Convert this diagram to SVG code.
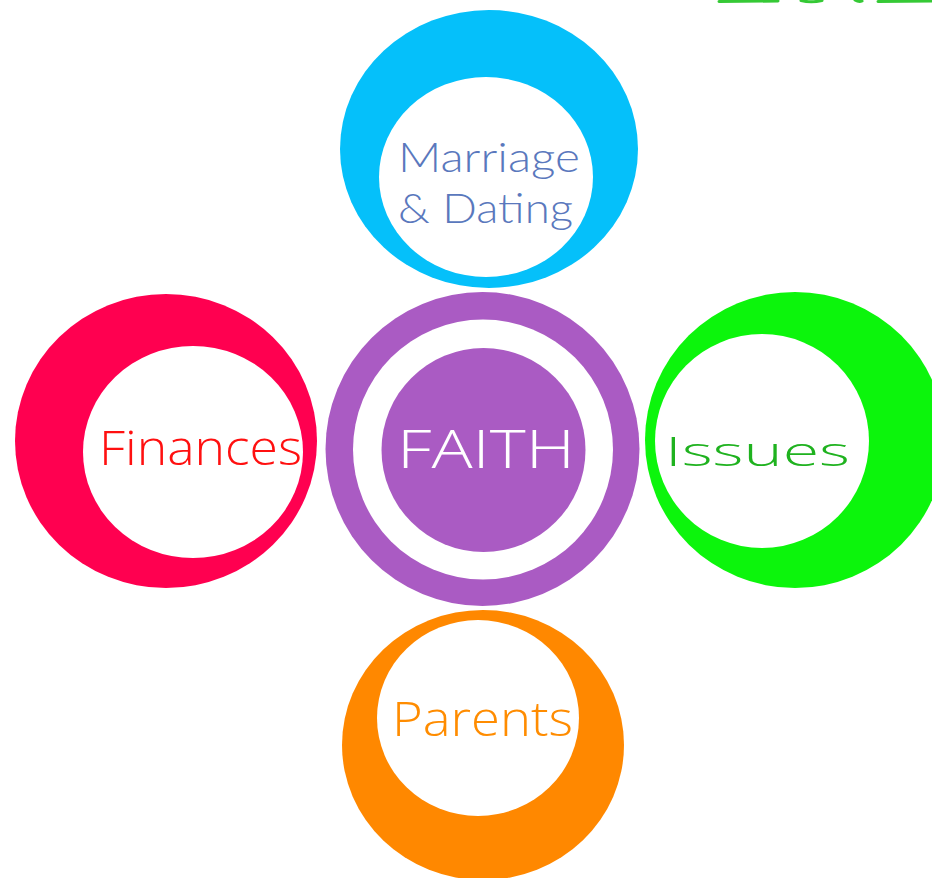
<svg xmlns="http://www.w3.org/2000/svg" width="932" height="878" viewBox="0 0 932 878">
<style>
.lbl{font-family:"Open Sans","Lato","Liberation Sans",sans-serif;font-weight:300}
.lbl2{font-family:"Lato","Liberation Sans",sans-serif;font-weight:300}
.hole{fill:#ffffff}
</style>
<rect width="932" height="878" fill="#ffffff"/>
<g id="top-right-fragment" fill="none" stroke="#35c935" stroke-width="3" stroke-linecap="round">
<path d="M719 1.5 L778 1"/>
<path d="M801 0.5 Q811 3 822 0.5"/>
<path d="M855 0 Q859 2.5 862 1"/>
<path d="M878 1.5 L932 1"/>
</g>
<g id="node-marriage">
<ellipse cx="489" cy="149" rx="149" ry="139" fill="#05c0fa"/>
<ellipse class="hole" cx="486" cy="177" rx="107" ry="100"/>
<text class="lbl2" x="398" y="172" font-size="41" fill="#5a78bd" textLength="182" lengthAdjust="spacingAndGlyphs">Marriage</text>
<text class="lbl2" x="398" y="223" font-size="41" fill="#5a78bd" textLength="175" lengthAdjust="spacingAndGlyphs">&amp; Dating</text>
</g>
<g id="node-finances">
<ellipse cx="166" cy="441" rx="151" ry="147" fill="#ff0050"/>
<ellipse class="hole" cx="193" cy="452" rx="110" ry="106"/>
<text class="lbl" x="99" y="465" font-size="48" fill="#ff1010" textLength="203" lengthAdjust="spacingAndGlyphs">Finances</text>
</g>
<g id="node-issues">
<ellipse cx="795" cy="440" rx="150" ry="148" fill="#0cf50c"/>
<ellipse class="hole" cx="762" cy="441" rx="107" ry="107"/>
<text class="lbl" x="665" y="466" font-size="40" fill="#1fb21f" textLength="185" lengthAdjust="spacingAndGlyphs">Issues</text>
</g>
<g id="node-parents">
<ellipse cx="483" cy="745" rx="141" ry="135" fill="#ff8800"/>
<ellipse class="hole" cx="478" cy="718" rx="101" ry="98"/>
<text class="lbl" x="392" y="736" font-size="47" fill="#ff8c00" textLength="181" lengthAdjust="spacingAndGlyphs">Parents</text>
</g>
<g id="node-faith">
<circle cx="482.5" cy="449" r="157" fill="#aa5bc3"/>
<circle class="hole" cx="483" cy="449.5" r="130"/>
<circle cx="483.5" cy="450" r="102" fill="#aa5bc3"/>
<text class="lbl" x="397" y="468" font-size="53" fill="#ffffff" textLength="178" lengthAdjust="spacingAndGlyphs">FAITH</text>
</g>
<g id="connectors"/>
</svg>
